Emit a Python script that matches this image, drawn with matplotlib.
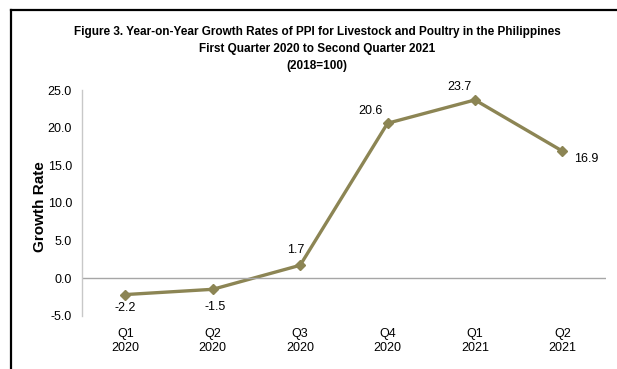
import matplotlib
matplotlib.use("Agg")
from matplotlib import pyplot as plt
from matplotlib.lines import Line2D

plt.rcParams['font.family'] = ['Liberation Sans', 'DejaVu Sans']

quarters = ['Q1\n2020', 'Q2\n2020', 'Q3\n2020', 'Q4\n2020', 'Q1\n2021', 'Q2\n2021']
growth = [-2.2, -1.5, 1.7, 20.6, 23.7, 16.9]
yticks = [-5.0, 0.0, 5.0, 10.0, 15.0, 20.0, 25.0]

line_color = '#8c8554'

fig = plt.figure(figsize=(6.17, 3.69), dpi=100)
ax = fig.add_axes([0.1324, 0.1447, 0.8498, 0.6109])

x = list(range(len(quarters)))
ax.plot(x, growth, color=line_color, linewidth=2.4, marker='D', markersize=5,
        markerfacecolor=line_color, markeredgecolor=line_color)

# data label offsets (points)
offsets = [(0, -9.5), (2, -13), (-3, 11), (-12, 9), (-11, 9), (17, -6)]
for i, v in enumerate(growth):
    dx, dy = offsets[i]
    ax.annotate('%.1f' % v, (i, v), xytext=(dx, dy), textcoords='offset points',
                ha='center', va='center', fontsize=9)

ax.set_xlim(-0.5, 5.5)
ax.set_ylim(-5, 25)
ax.set_yticks(yticks)
ax.set_yticklabels(['%.1f' % t for t in yticks], fontsize=9)
ax.set_xticks(x)
ax.set_xticklabels(quarters, fontsize=9, linespacing=1.25)
ax.tick_params(axis='both', length=0)
ax.tick_params(axis='y', pad=7)
ax.tick_params(axis='x', pad=9)

ax.axhline(0, color='#a6a6a6', linewidth=1)
for s in ['top', 'right', 'bottom']:
    ax.spines[s].set_visible(False)
ax.spines['left'].set_color('#c8c8c8')
ax.spines['left'].set_linewidth(1)

# y axis title
fig.text(40 / 617, 0.44, 'Growth Rate', rotation=90, ha='center', va='center',
         fontsize=11, fontweight='bold')

titles = ['Figure 3. Year-on-Year Growth Rates of PPI for Livestock and Poultry in the Philippines',
          'First Quarter 2020 to Second Quarter 2021',
          '(2018=100)']
title_y = [0.913, 0.867, 0.820]
for t, yy in zip(titles, title_y):
    fig.text(0.514, yy, t, ha='center', va='center', fontsize=8.5, fontweight='bold')

# outer frame (left and top edges)
fig.add_artist(Line2D([0.0186, 0.0186], [0, 0.973], transform=fig.transFigure, color='black', linewidth=1.6))
fig.add_artist(Line2D([0.0186, 1.0], [0.973, 0.973], transform=fig.transFigure, color='black', linewidth=1.6))

fig.savefig('out.png', dpi=100)
